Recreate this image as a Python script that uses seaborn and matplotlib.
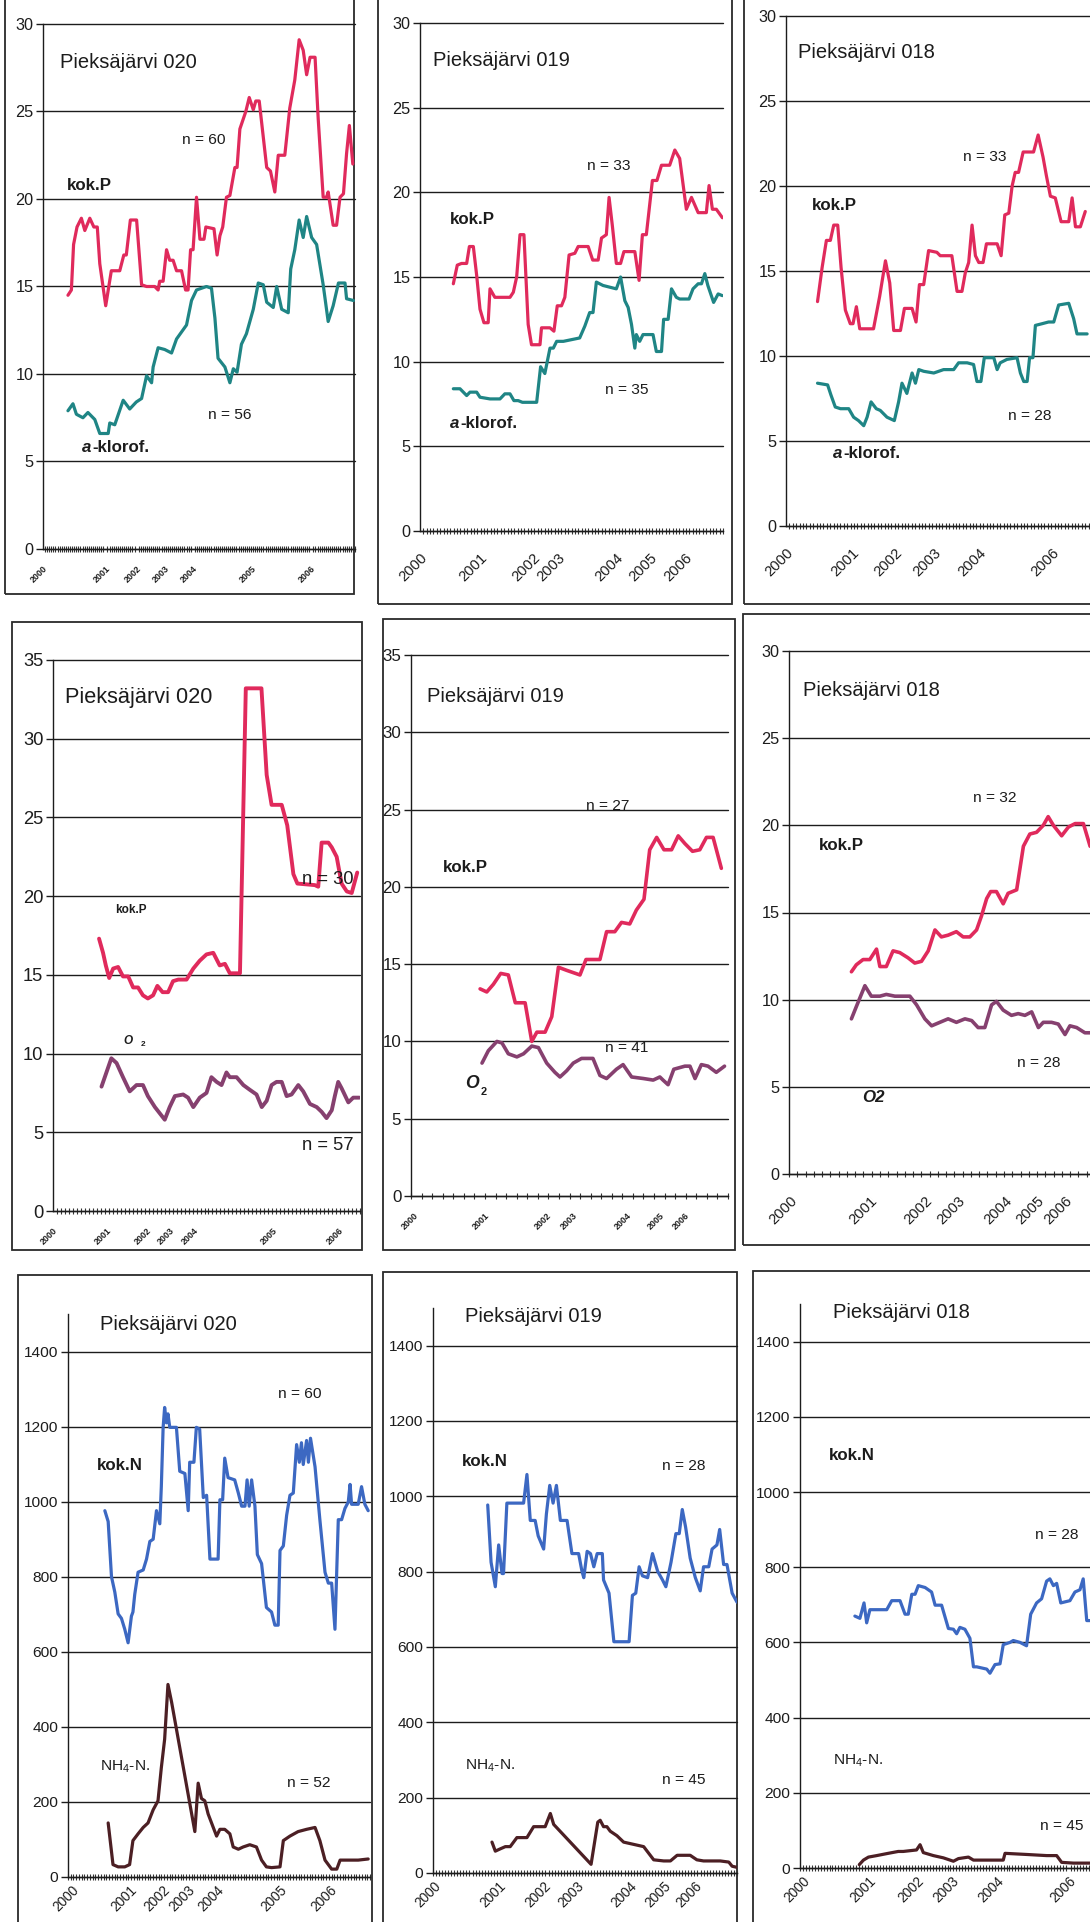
import numpy as np
import matplotlib
matplotlib.use("Agg")
import matplotlib.pyplot as plt
from matplotlib.patches import Rectangle
from matplotlib import font_manager
import seaborn as sns

# ---------------- DATA (x = position along category axis, 0-100) ----------------
YEARS = ["2000", "2001", "2002", "2003", "2004", "2005", "2006"]
YEARS_NO05 = ["2000", "2001", "2002", "2003", "2004", "2006"]

P1_TICKS = [0, 20, 30, 39, 48, 67, 86]
P2_TICKS = [0, 19.8, 37.4, 45.6, 64.8, 75.8, 87.4]
P3_TICKS = [0, 21.6, 35.7, 48.3, 63.0, 86.9]
P4_TICKS = [0, 17.4, 30.4, 38.0, 46.0, 71.7, 93.0]
P5_TICKS = [0.8, 23.4, 42.8, 51.2, 68.0, 78.5, 86.4]
P6_TICKS = [0.2, 26.4, 44.4, 55.3, 70.6, 80.9, 90.2]
P7_TICKS = [1.1, 20.4, 31.5, 39.8, 49.2, 70.2, 86.7]
P8_TICKS = [0.2, 21.6, 36.4, 47.4, 64.9, 75.9, 86.3]
P9_TICKS = [1.1, 23.2, 39.5, 51.4, 66.7, 91.0]

# Pieksäjärvi 020 - kok.P / a-klorof.
P1_P_X = [8.0,9.1,9.8,10.9,12.3,13.4,15.0,16.3,17.4,18.2,20.1,21.9,24.6,25.9,26.7,28.0,30.0,31.6,33.2,35.8,36.9,37.4,38.5,39.6,40.6,41.7,42.8,44.4,45.7,46.5,47.3,48.1,49.2,50.3,51.6,52.2,54.8,55.8,56.7,57.6,58.8,59.9,61.5,62.2,63.1,65.0,66.1,67.4,68.2,69.3,71.7,72.9,74.3,75.4,77.5,79.1,80.7,82.1,83.4,84.5,85.6,87.2,88.2,89.8,90.9,91.4,93.0,94.1,95.2,96.3,97.3,98.2,99.3]
P1_P_Y = [14.5,14.8,17.4,18.4,18.9,18.2,18.9,18.4,18.4,16.3,13.9,15.9,15.9,16.8,16.8,18.8,18.8,15.1,15.0,15.0,14.8,15.3,15.3,17.1,16.5,16.5,15.9,15.9,14.8,14.8,17.1,17.1,20.1,17.7,17.7,18.4,18.3,16.8,17.9,18.4,20.1,20.2,21.8,21.8,24.0,25.0,25.8,25.1,25.6,25.6,21.8,21.6,20.4,22.5,22.5,25.2,26.8,29.1,28.5,27.1,28.1,28.1,24.6,20.1,20.1,20.4,18.5,18.5,20.1,20.3,22.6,24.2,22.0]
P1_A_X = [8.0,9.6,10.7,12.8,14.4,16.6,18.2,20.9,21.4,23.0,25.7,27.8,29.9,31.6,33.2,34.8,35.3,36.9,39.0,41.2,42.8,44.4,46.0,47.6,49.2,50.8,52.4,54.0,55.1,56.1,58.3,59.9,61.0,62.2,63.6,65.2,67.4,69.0,70.6,71.7,73.8,74.9,76.5,78.6,79.4,80.7,82.1,83.4,84.5,86.1,87.7,89.8,91.4,93.0,94.7,96.8,97.3,99.5]
P1_A_Y = [7.9,8.3,7.7,7.5,7.8,7.4,6.6,6.6,7.2,7.1,8.5,8.0,8.4,8.6,9.9,9.5,10.4,11.5,11.4,11.2,12.0,12.4,12.8,14.2,14.8,14.9,15.0,14.9,13.2,10.9,10.4,9.5,10.3,10.1,11.7,12.3,13.7,15.2,15.1,14.1,13.8,15.0,13.7,13.5,16.0,17.1,18.8,17.8,19.0,17.8,17.4,15.1,13.0,13.9,15.2,15.2,14.3,14.2]

# Pieksäjärvi 019 - kok.P / a-klorof.
P2_P_X = [11.0,12.3,13.7,15.4,16.3,17.6,18.7,19.8,21.1,22.5,23.1,24.7,29.7,30.8,31.9,33.0,34.3,35.7,36.8,39.6,40.1,42.9,44.2,45.3,46.7,47.8,49.2,51.1,52.2,55.5,57.0,58.8,59.9,61.5,62.4,63.5,64.8,66.2,67.3,70.9,72.3,73.4,74.7,76.7,78.2,79.7,82.4,84.1,85.7,87.9,89.6,91.8,94.5,95.4,96.5,97.8,99.8]
P2_P_Y = [14.6,15.7,15.8,15.8,16.8,16.8,15.1,13.1,12.3,12.3,14.3,13.8,13.8,14.1,15.0,17.5,17.5,12.2,11.0,11.0,12.0,12.0,11.8,13.3,13.3,13.8,16.3,16.4,16.8,16.8,16.0,16.0,17.3,17.5,19.7,18.0,15.8,15.8,16.5,16.5,14.8,17.5,17.5,20.7,20.7,21.6,21.6,22.5,22.0,19.0,19.7,18.8,18.8,20.4,19.0,19.0,18.5]
P2_A_X = [11.0,13.2,15.4,16.5,18.7,19.8,23.1,26.4,28.0,29.7,31.0,32.4,33.8,35.2,38.5,39.8,41.2,42.9,44.0,45.1,47.3,52.7,54.4,56.0,57.1,58.2,60.4,64.8,66.2,67.6,68.7,69.8,70.9,71.4,72.5,73.6,76.9,78.0,79.7,80.4,81.9,83.0,84.6,85.7,88.8,90.1,91.8,92.9,94.0,95.0,96.9,98.4,99.8]
P2_A_Y = [8.4,8.4,8.0,8.2,8.2,7.9,7.8,7.8,8.1,8.1,7.7,7.7,7.6,7.6,7.6,9.7,9.3,10.8,10.8,11.2,11.2,11.4,12.1,12.9,12.9,14.7,14.5,14.3,15.0,13.6,13.2,12.2,10.8,11.6,11.2,11.6,11.6,10.6,10.6,12.5,12.5,14.3,13.8,13.7,13.7,14.3,14.6,14.6,15.2,14.5,13.5,14.0,13.9]

# Pieksäjärvi 018 - kok.P / a-klorof.
P3_P_X = [10.3,11.8,13.2,14.5,15.6,16.9,18.0,19.4,21.0,21.9,23.0,24.1,28.6,30.6,32.5,33.9,35.2,37.4,38.7,41.2,42.5,43.6,45.0,46.6,49.3,50.4,54.2,55.9,57.5,58.6,59.7,60.8,61.9,63.0,64.4,65.5,69.0,70.3,71.5,72.8,73.9,74.9,76.0,77.5,80.9,82.4,84.0,85.1,86.4,88.0,89.9,92.4,93.5,94.6,96.2,97.8]
P3_P_Y = [13.2,15.2,16.8,16.8,17.7,17.7,15.2,12.7,11.9,11.9,12.9,11.6,11.6,13.5,15.6,14.3,11.5,11.5,12.8,12.8,12.0,14.2,14.2,16.2,16.1,15.9,15.9,13.8,13.8,14.9,15.5,17.7,15.9,15.5,15.5,16.6,16.6,15.9,18.3,18.4,20.0,20.8,20.8,22.0,22.0,23.0,21.7,20.6,19.4,19.3,17.9,17.9,19.3,17.6,17.6,18.5]
P3_A_X = [10.3,13.6,14.7,16.1,17.8,20.5,22.1,23.7,25.4,26.5,27.8,29.5,30.8,33.0,35.4,36.8,37.9,39.5,41.2,42.3,43.4,45.0,48.3,51.5,54.8,56.4,59.2,61.3,62.4,63.7,64.8,67.9,69.0,70.0,72.2,75.5,76.6,77.7,78.8,79.6,80.7,81.5,83.7,85.8,87.5,89.1,92.4,94.0,95.1,98.4]
P3_A_Y = [8.4,8.3,7.7,7.0,6.9,6.9,6.4,6.2,5.9,6.4,7.3,6.9,6.8,6.4,6.2,7.3,8.4,7.8,9.0,8.4,9.2,9.1,9.0,9.2,9.2,9.6,9.6,9.5,8.5,8.5,9.9,9.9,9.2,9.6,9.8,9.9,9.0,8.5,8.5,9.9,9.9,11.8,11.9,12.0,12.0,13.0,13.1,12.2,11.3,11.3]

# Pieksäjärvi 020 - kok.P / O2
P4_P_X = [15.0,16.3,17.2,18.3,19.6,21.2,22.8,24.5,26.1,27.7,29.3,30.9,32.6,34.0,35.7,37.5,39.1,40.8,43.5,45.7,47.8,50.0,52.2,54.3,56.0,57.6,60.9,62.8,67.9,69.6,71.2,74.5,76.3,78.3,79.6,85.3,86.4,87.5,89.7,90.8,92.4,94.0,95.7,97.3,99.1]
P4_P_Y = [17.3,16.4,15.6,14.8,15.4,15.5,14.9,14.9,14.2,14.2,13.7,13.5,13.7,14.3,13.9,13.9,14.6,14.7,14.7,15.4,15.9,16.3,16.4,15.6,15.7,15.1,15.1,33.2,33.2,27.7,25.8,25.8,24.5,21.4,20.8,20.7,20.6,23.4,23.4,23.1,22.5,20.8,20.3,20.2,21.5]
P4_O_X = [15.8,17.4,19.0,20.7,22.8,25.0,27.2,29.3,30.9,33.2,34.8,36.4,38.0,39.7,42.4,44.0,45.7,47.8,50.0,51.6,53.3,54.9,56.5,57.6,59.8,62.0,64.1,66.3,68.0,69.6,71.2,72.8,74.5,76.1,77.7,79.9,81.5,83.7,85.9,87.5,89.1,90.8,91.8,92.9,94.0,96.2,97.8,99.8]
P4_O_Y = [7.9,8.8,9.7,9.4,8.5,7.6,8.0,8.0,7.3,6.6,6.2,5.8,6.6,7.3,7.4,7.2,6.6,7.2,7.5,8.5,8.2,8.0,8.8,8.5,8.5,8.0,7.7,7.4,6.6,7.0,8.0,8.2,8.2,7.3,7.4,8.0,7.6,6.8,6.6,6.3,5.9,6.4,7.3,8.2,7.8,6.9,7.2,7.2]

# Pieksäjärvi 019 - kok.P / O2
P5_P_X = [21.8,23.9,26.0,28.3,30.7,32.9,36.0,38.1,39.7,42.3,44.4,46.5,49.1,53.3,55.2,59.6,61.7,64.3,66.4,69.0,71.1,73.5,75.3,77.5,79.8,82.2,84.3,86.4,88.8,91.1,93.2,95.3,97.9]
P5_P_Y = [13.4,13.2,13.7,14.4,14.3,12.5,12.5,10.0,10.6,10.6,11.6,14.8,14.6,14.3,15.3,15.3,17.1,17.1,17.7,17.6,18.5,19.2,22.4,23.2,22.4,22.4,23.3,22.8,22.3,22.4,23.2,23.2,21.2]
P5_O_X = [22.4,24.4,27.1,28.7,30.7,33.4,35.5,38.1,40.2,42.8,45.4,47.0,49.1,51.2,53.8,57.4,59.6,61.7,64.8,66.9,69.6,73.3,76.4,78.5,79.5,81.1,82.9,86.4,88.0,89.6,91.6,93.7,96.3,98.9]
P5_O_Y = [8.6,9.4,10.0,9.9,9.2,9.0,9.2,9.7,9.6,8.6,8.0,7.7,8.1,8.6,8.9,8.9,7.8,7.6,8.2,8.5,7.7,7.6,7.5,7.7,7.5,7.2,8.2,8.4,8.4,7.6,8.5,8.4,8.0,8.4]

# Pieksäjärvi 018 - kok.P / O2
P6_P_X = [20.4,22.0,24.2,26.4,28.6,29.7,31.8,34.0,36.2,38.9,41.1,43.3,45.5,47.7,49.8,52.0,54.7,56.9,59.1,61.3,62.9,64.6,65.9,67.8,70.0,71.6,74.4,76.6,78.7,80.9,83.1,84.7,86.4,89.1,91.3,93.5,96.2,98.4]
P6_P_Y = [11.6,12.0,12.3,12.3,12.9,11.9,11.9,12.8,12.7,12.4,12.1,12.2,12.8,14.0,13.6,13.7,13.9,13.6,13.6,14.0,14.8,15.8,16.2,16.2,15.5,16.1,16.3,18.8,19.5,19.6,20.0,20.5,20.0,19.4,19.9,20.1,20.1,18.8]
P6_O_X = [20.4,22.0,24.8,26.9,29.7,31.8,34.6,37.3,39.5,41.7,44.4,46.6,49.3,52.0,54.7,57.5,59.7,61.8,64.0,66.2,67.8,70.0,72.7,74.9,77.1,79.3,81.5,83.1,85.8,88.0,90.2,91.8,94.0,96.7,98.4]
P6_O_Y = [8.9,9.6,10.8,10.2,10.2,10.3,10.2,10.2,10.2,9.7,8.9,8.5,8.7,8.9,8.7,8.9,8.8,8.4,8.4,9.7,9.9,9.4,9.1,9.2,9.1,9.3,8.4,8.7,8.7,8.6,8.0,8.5,8.4,8.1,8.1]

# Pieksäjärvi 020 - kok.N / NH4-N
P7_N_X = [12.2,13.3,14.4,15.5,16.6,17.7,18.8,19.9,21.0,21.5,22.1,23.2,24.9,26.0,27.1,28.2,29.3,30.4,30.9,31.5,32.0,32.6,33.1,33.7,35.9,37.0,38.7,39.8,40.3,41.7,42.5,43.6,44.8,45.9,47.0,49.7,50.3,51.2,51.9,53.0,55.2,56.4,57.5,58.6,59.3,60.0,60.8,61.9,62.7,64.1,65.7,67.4,68.5,69.6,70.2,71.3,72.4,73.5,74.6,75.7,76.6,77.3,77.9,79.0,79.6,80.3,81.8,83.4,85.1,86.2,87.3,88.4,89.5,90.6,91.7,92.8,93.4,93.9,96.1,97.2,98.3,99.4]
P7_N_Y = [976,947,800,759,701,689,660,624,695,706,753,812,818,847,894,900,976,941,1040,1198,1251,1210,1234,1198,1198,1081,1075,976,1105,1105,1198,1193,1011,1017,847,847,1005,1005,1116,1064,1058,1023,988,988,1058,988,1058,988,859,835,718,706,671,671,870,882,964,1017,1023,1152,1105,1157,1099,1163,1105,1169,1093,952,812,783,783,660,952,952,982,999,1046,993,993,1040,993,976]
P7_H_X = [13.3,14.9,16.6,18.8,20.4,21.5,23.2,24.9,26.5,28.2,29.8,30.9,32.0,33.1,34.3,42.0,43.1,44.2,45.3,46.4,48.1,49.2,50.3,51.9,53.6,54.7,56.4,58.0,60.2,62.4,64.1,65.7,67.4,70.2,71.3,73.5,76.2,79.0,81.8,83.4,85.1,87.3,89.0,90.1,93.4,96.1,99.4]
P7_H_Y = [144,33,27,27,33,97,115,132,144,179,203,291,367,513,466,121,250,209,203,168,132,109,127,127,115,80,74,80,86,80,45,27,25,27,97,109,121,127,132,97,45,21,21,45,45,45,48]

# Pieksäjärvi 019 - kok.N / NH4-N
P8_N_X = [18.0,19.1,20.5,21.6,22.7,23.2,24.3,25.4,29.8,30.9,32.0,33.6,34.6,36.4,37.3,38.4,39.5,40.6,41.9,44.1,45.7,47.9,49.0,49.6,50.7,51.8,52.9,54.0,55.7,56.1,57.9,59.5,62.2,64.5,65.6,66.7,67.8,68.9,70.6,72.2,73.9,75.5,76.6,78.3,79.9,81.0,82.0,83.1,84.6,86.3,87.9,89.0,90.7,91.8,93.4,94.3,95.6,96.7,98.4,100.0]
P8_N_Y = [977,825,760,871,795,795,982,982,982,1058,936,936,895,860,953,1029,982,1029,936,936,848,848,801,784,854,848,813,848,848,778,743,614,614,614,737,743,813,789,784,848,801,778,760,825,901,901,965,918,836,784,749,813,813,860,871,912,819,819,743,719]
P8_H_X = [19.4,20.5,22.1,23.8,25.4,27.6,30.9,33.1,36.9,38.6,39.7,52.0,54.2,55.0,56.1,57.2,58.3,60.5,62.7,66.0,69.3,70.9,72.6,75.9,78.1,80.3,84.6,86.8,89.0,94.5,97.3,98.4,100.0]
P8_H_Y = [82,58,64,70,70,94,94,123,123,158,129,23,135,140,123,123,111,99,82,76,70,53,35,32,32,47,47,35,32,32,29,18,15]

# Pieksäjärvi 018 - kok.N / NH4-N
P9_N_X = [18.6,20.3,21.7,22.6,23.7,29.4,31.1,33.9,35.6,36.7,37.9,39.0,40.1,42.4,44.6,45.8,48.0,50.3,52.0,53.1,54.2,55.9,57.6,58.8,59.9,63.3,64.4,66.1,67.8,68.9,71.2,72.3,74.6,76.8,78.2,80.2,81.9,83.6,84.7,85.9,87.0,88.4,91.5,93.2,94.9,96.0,97.2,98.3]
P9_N_Y = [670,664,705,652,687,687,711,711,675,675,728,728,751,746,734,699,699,637,635,623,640,635,611,535,535,529,518,541,543,594,600,605,600,591,675,705,716,763,769,751,757,705,711,734,740,769,658,658]
P9_H_X = [20.1,21.5,23.2,26.0,29.9,33.3,35.0,39.5,40.7,41.8,45.2,48.6,52.0,53.7,55.4,57.1,58.8,66.7,68.9,69.5,76.8,83.6,87.0,88.7,92.7,98.3]
P9_H_Y = [9,21,29,33,39,44,44,48,62,41,33,27,18,25,27,29,21,21,21,39,36,33,33,15,13,13]

# ---------------- STYLE ----------------
sns.set_style("white")
_names = {f.name for f in font_manager.fontManager.ttflist}
if 'Liberation Sans Narrow' in _names:
    FAMILY = ['Liberation Sans Narrow', 'Liberation Sans', 'DejaVu Sans']
    FS = 1.0 / 0.82
else:
    FAMILY = ['Liberation Sans', 'DejaVu Sans']
    FS = 1.06
plt.rcParams['font.family'] = FAMILY
plt.rcParams['mathtext.fontset'] = 'custom'
plt.rcParams['mathtext.rm'] = FAMILY[0]
plt.rcParams['mathtext.default'] = 'rm'

RED = '#e02a5c'
TEAL = '#1f8585'
BLUE = '#3c68c2'
NH4C = '#4c1f24'
O2C = '#86406f'
INK = '#1c1c1c'

W, H = 1090, 1922
fig = plt.figure(figsize=(W / 100, H / 100), dpi=100)
fig.patch.set_facecolor('white')


def ftext(x, y, s, size, **kw):
    kw.setdefault('va', 'center')
    kw.setdefault('ha', 'left')
    kw.setdefault('color', INK)
    fig.text(x / W, 1 - y / H, s, fontsize=size * FS, **kw)


def T(s=13.7):
    return dict(size=s)


def Bd(s=11.5, it=False):
    return dict(size=s, fontweight='bold', fontstyle='italic' if it else 'normal')


def Nn(s=10.5):
    return dict(size=s)


PANELS = [
    dict(box=(5, -5, 354, 594), ax=(43, 355, 24, 549), ymax=30, ystep=5, ticks=P1_TICKS, labels=YEARS,
         tiny=True, nminor=150, ytfs=11, lw=2.3, xfs=10, xpad=14,
         series=[(P1_P_X, P1_P_Y, RED), (P1_A_X, P1_A_Y, TEAL)],
         texts=[("Pieksäjärvi 020", 60, 62, T()), ("kok.P", 67, 186, Bd()), ("n = 60", 182, 140, Nn()),
                ("n = 56", 208, 415, Nn()), ("a", 82, 447, Bd(it=True)), ("-klorof.", 92, 447, Bd())]),
    dict(box=(378, -5, 732, 604), ax=(420, 723, 23, 531), ymax=30, ystep=5, ticks=P2_TICKS, labels=YEARS,
         tiny=False, nminor=90, ytfs=11, lw=2.3, xfs=10, xpad=14,
         series=[(P2_P_X, P2_P_Y, RED), (P2_A_X, P2_A_Y, TEAL)],
         texts=[("Pieksäjärvi 019", 433, 60, T()), ("kok.P", 450, 220, Bd()), ("n = 33", 587, 166, Nn()),
                ("n = 35", 605, 390, Nn()), ("a", 450, 424, Bd(it=True)), ("-klorof.", 460, 424, Bd())]),
    dict(box=(744, -5, 1100, 604), ax=(786, 1092, 16, 526), ymax=30, ystep=5, ticks=P3_TICKS, labels=YEARS_NO05,
         tiny=False, nminor=90, ytfs=11, lw=2.3, xfs=10, xpad=14,
         series=[(P3_P_X, P3_P_Y, RED), (P3_A_X, P3_A_Y, TEAL)],
         texts=[("Pieksäjärvi 018", 798, 53, T()), ("kok.P", 812, 206, Bd()), ("n = 33", 963, 157, Nn()),
                ("n = 28", 1008, 416, Nn()), ("a", 833, 453, Bd(it=True)), ("-klorof.", 843, 453, Bd())]),
    dict(box=(12, 622, 362, 1250), ax=(53, 360, 660, 1211), ymax=35, ystep=5, ticks=P4_TICKS, labels=YEARS,
         tiny=True, nminor=77, ytfs=12.5, lw=2.8, xfs=10, xpad=14,
         series=[(P4_P_X, P4_P_Y, RED), (P4_O_X, P4_O_Y, O2C)],
         texts=[("Pieksäjärvi 020", 65, 697, T(14.8)), ("kok.P", 115, 910, Bd(8)),
                ("O", 123, 1041, Bd(8, it=True)), ("2", 141, 1045, Bd(5.5)),
                ("n = 30", 302, 880, Nn(12.5)), ("n = 57", 302, 1146, Nn(12.5))]),
    dict(box=(383, 619, 735, 1250), ax=(411, 728, 655, 1196), ymax=35, ystep=5, ticks=P5_TICKS, labels=YEARS,
         tiny=True, nminor=30, ytfs=11.5, lw=2.6, xfs=10, xpad=14,
         series=[(P5_P_X, P5_P_Y, RED), (P5_O_X, P5_O_Y, O2C)],
         texts=[("Pieksäjärvi 019", 427, 697, T()), ("n = 27", 586, 806, Nn()), ("kok.P", 443, 868, Bd()),
                ("n = 41", 605, 1048, Nn()), ("O", 465, 1084, Bd(12, it=True)), ("2", 481, 1092, Bd(7.5))]),
    dict(box=(743, 614, 1100, 1245), ax=(789, 1095, 651, 1174), ymax=30, ystep=5, ticks=P6_TICKS, labels=YEARS,
         tiny=False, nminor=37, ytfs=11, lw=2.6, xfs=10, xpad=14,
         series=[(P6_P_X, P6_P_Y, RED), (P6_O_X, P6_O_Y, O2C)],
         texts=[("Pieksäjärvi 018", 803, 690, T()), ("n = 32", 973, 798, Nn()), ("kok.P", 819, 845, Bd()),
                ("n = 28", 1017, 1063, Nn()), ("O2", 862, 1097, Bd(11.5, it=True))]),
    dict(box=(18, 1275, 372, 1935), ax=(68, 370, 1314, 1877), ymax=1500, ystep=200, ytop=1400, ticks=P7_TICKS,
         labels=YEARS, tiny=False, nminor=110, ytfs=10.5, lw=2.3, xfs=9.3, xpad=4,
         series=[(P7_N_X, P7_N_Y, BLUE), (P7_H_X, P7_H_Y, NH4C)],
         texts=[("Pieksäjärvi 020", 100, 1324, T()), ("n = 60", 278, 1394, Nn()), ("kok.N", 97, 1466, Bd()),
                ("NH$_4$-N.", 100, 1767, Nn()), ("n = 52", 287, 1783, Nn())]),
    dict(box=(383, 1272, 737, 1935), ax=(433, 737, 1308, 1873), ymax=1500, ystep=200, ytop=1400, ticks=P8_TICKS,
         labels=YEARS, tiny=False, nminor=100, ytfs=10.5, lw=2.3, xfs=9.3, xpad=4,
         series=[(P8_N_X, P8_N_Y, BLUE), (P8_H_X, P8_H_Y, NH4C)],
         texts=[("Pieksäjärvi 019", 465, 1317, T()), ("kok.N", 462, 1462, Bd()), ("n = 28", 662, 1466, Nn()),
                ("NH$_4$-N.", 465, 1766, Nn()), ("n = 45", 662, 1780, Nn())]),
    dict(box=(753, 1271, 1100, 1935), ax=(800, 1095, 1304, 1868), ymax=1500, ystep=200, ytop=1400, ticks=P9_TICKS,
         labels=YEARS_NO05, tiny=False, nminor=100, ytfs=10.5, lw=2.3, xfs=9.3, xpad=4,
         series=[(P9_N_X, P9_N_Y, BLUE), (P9_H_X, P9_H_Y, NH4C)],
         texts=[("Pieksäjärvi 018", 833, 1312, T()), ("kok.N", 829, 1456, Bd()), ("n = 28", 1035, 1535, Nn()),
                ("NH$_4$-N.", 833, 1761, Nn()), ("n = 45", 1040, 1826, Nn())]),
]

for p in PANELS:
    bl, bt, br, bb = p['box']
    fig.add_artist(Rectangle((bl / W, 1 - bb / H), (br - bl) / W, (bb - bt) / H,
                             transform=fig.transFigure, fill=False, ec='#2a2a2a', lw=1.3, zorder=0))
    l, r, t, b = p['ax']
    ax = fig.add_axes([l / W, 1 - b / H, (r - l) / W, (b - t) / H])
    ax.patch.set_alpha(0)
    for xs, ys, c in p['series']:
        sns.lineplot(x=xs, y=ys, ax=ax, color=c, linewidth=p['lw'], estimator=None, sort=False, legend=False)
    ax.set_xlim(0, 100)
    ax.set_ylim(0, p['ymax'])
    ytop = p.get('ytop', p['ymax'])
    ax.set_yticks(np.arange(0, ytop + 1, p['ystep']))
    ax.set_xlabel('')
    ax.set_ylabel('')
    ax.yaxis.grid(True, color=INK, lw=1.0)
    ax.xaxis.grid(False)
    ax.set_axisbelow(True)
    for gl in ax.get_ygridlines():
        gl.set_clip_on(False)
    for s in ('top', 'right'):
        ax.spines[s].set_visible(False)
    for s in ('left', 'bottom'):
        ax.spines[s].set_color(INK)
        ax.spines[s].set_linewidth(1.0)
    ax.tick_params(axis='y', left=True, length=5, width=1, color=INK, labelsize=p['ytfs'] * FS,
                   labelcolor=INK, pad=2, direction='out')
    ax.set_xticks(p['ticks'])
    if p['tiny']:
        ax.set_xticklabels(p['labels'], rotation=45, ha='right', rotation_mode='anchor',
                           fontsize=6 * FS, fontweight='bold', color=INK)
        ax.tick_params(axis='x', which='major', bottom=True, length=0, pad=11)
    else:
        ax.set_xticklabels(p['labels'], rotation=45, ha='right', rotation_mode='anchor',
                           fontsize=p['xfs'] * FS, color=INK)
        ax.tick_params(axis='x', which='major', bottom=True, length=0, pad=p['xpad'])
    ax.set_xticks(np.linspace(0, 100, p['nminor'] + 1), minor=True)
    ax.tick_params(axis='x', which='minor', bottom=True, length=4, width=0.8, color='#333333',
                   direction='inout')
    for txt, x, y, kw in p['texts']:
        kw = dict(kw)
        size = kw.pop('size')
        ftext(x, y, txt, size, **kw)

fig.savefig('out.png', dpi=100, facecolor='white')
